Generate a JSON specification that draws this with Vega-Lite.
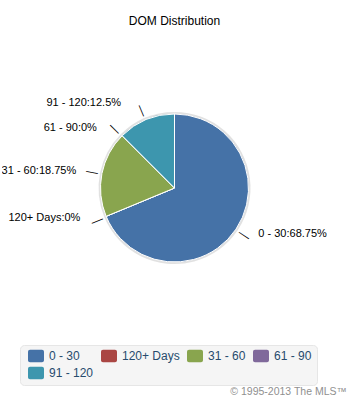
{
  "$schema": "https://vega.github.io/schema/vega-lite/v6.json",
  "padding": {"left": 2, "top": 2, "right": 3, "bottom": 0},
  "background": "#ffffff",
  "datasets": {
    "dom": [
      {"i": 1, "range": "0 - 30", "pct": 68.75, "label": "0 - 30:68.75%"},
      {"i": 2, "range": "120+ Days", "pct": 0, "label": "120+ Days:0%"},
      {"i": 3, "range": "31 - 60", "pct": 18.75, "label": "31 - 60:18.75%"},
      {"i": 4, "range": "61 - 90", "pct": 0, "label": "61 - 90:0%"},
      {"i": 5, "range": "91 - 120", "pct": 12.5, "label": "91 - 120:12.5%"}
    ]
  },
  "title": {
    "text": "© 1995-2013 The MLS™",
    "orient": "bottom",
    "anchor": "end",
    "fontSize": 10.5,
    "fontWeight": "normal",
    "font": "Liberation Sans",
    "color": "#909090",
    "offset": 1
  },
  "vconcat": [
    {
      "width": 345,
      "height": 372,
      "title": {
        "text": "DOM Distribution",
        "fontSize": 12,
        "fontWeight": "normal",
        "font": "Liberation Sans",
        "color": "#000000",
        "anchor": "middle",
        "frame": "group",
        "offset": -26
      },
      "data": {"name": "dom"},
      "layer": [
        {
          "mark": {"type": "arc", "radius": 76, "fill": "#d4d4d4", "opacity": 0.7},
          "encoding": {
            "theta": {"field": "pct", "type": "quantitative", "stack": true},
            "order": {"field": "i", "type": "quantitative"},
            "detail": {"field": "range"}
          }
        },
        {
          "mark": {"type": "arc", "radius": 74, "stroke": "#ffffff", "strokeWidth": 1},
          "encoding": {
            "theta": {"field": "pct", "type": "quantitative", "stack": true},
            "order": {"field": "i", "type": "quantitative"},
            "color": {
              "field": "range",
              "type": "nominal",
              "scale": {
                "domain": ["0 - 30", "120+ Days", "31 - 60", "61 - 90", "91 - 120"],
                "range": ["#4572A7", "#AA4643", "#89A54E", "#80699B", "#3D96AE"]
              },
              "legend": {
                "title": null,
                "orient": "none",
                "legendX": 18,
                "legendY": 343,
                "direction": "horizontal",
                "columns": 4,
                "gridAlign": "none",
                "symbolType": "M-1.2,-1.25H1.2A0.4,0.4 0 0 1 1.6,-0.85V0.85A0.4,0.4 0 0 1 1.2,1.25H-1.2A0.4,0.4 0 0 1 -1.6,0.85V-0.85A0.4,0.4 0 0 1 -1.2,-1.25Z",
                "symbolStrokeWidth": 0,
                "symbolOpacity": 1,
                "symbolOffset": 5,
                "columnPadding": 4,
                "rowPadding": 3,
                "labelOffset": 7
              }
            }
          }
        },
        {
          "mark": {"type": "text", "radius": 84, "fontSize": 12, "font": "Liberation Sans", "color": "#000000", "align": "center", "baseline": "middle", "text": "—"},
          "encoding": {
            "theta": {"field": "pct", "type": "quantitative", "stack": true},
            "order": {"field": "i", "type": "quantitative"},
            "detail": {"field": "range"},
            "angle": {
              "field": "range",
              "type": "nominal",
              "scale": {
                "type": "ordinal",
                "domain": ["0 - 30", "120+ Days", "31 - 60", "61 - 90", "91 - 120"],
                "range": [33.75, 337.5, 11.25, 45, 67.5]
              }
            }
          }
        },
        {
          "mark": {
            "type": "text",
            "radius": 90,
            "fontSize": 11,
            "font": "Liberation Sans",
            "color": "#000000",
            "baseline": "middle",
            "clip": true,
            "align": {"expr": "datum.range === '0 - 30' ? 'left' : 'right'"},
            "dx": {"expr": "{'0 - 30': 9, '120+ Days': -11, '31 - 60': -10, '61 - 90': -14, '91 - 120': -19}[datum.range]"},
            "dy": {"expr": "{'0 - 30': -4, '120+ Days': -4, '31 - 60': 1, '61 - 90': 4, '91 - 120': -2}[datum.range]"}
          },
          "encoding": {
            "theta": {"field": "pct", "type": "quantitative", "stack": true},
            "order": {"field": "i", "type": "quantitative"},
            "detail": {"field": "range"},
            "text": {"field": "label"}
          }
        }
      ]
    }
  ],
  "config": {
    "view": {"stroke": null},
    "font": "Liberation Sans",
    "legend": {
      "labelFontSize": 12,
      "labelFont": "Liberation Sans",
      "labelColor": "#274b6d",
      "padding": 5,
      "fillColor": "#f5f5f5",
      "strokeColor": "#e6e6e6",
      "cornerRadius": 4
    }
  }
}
